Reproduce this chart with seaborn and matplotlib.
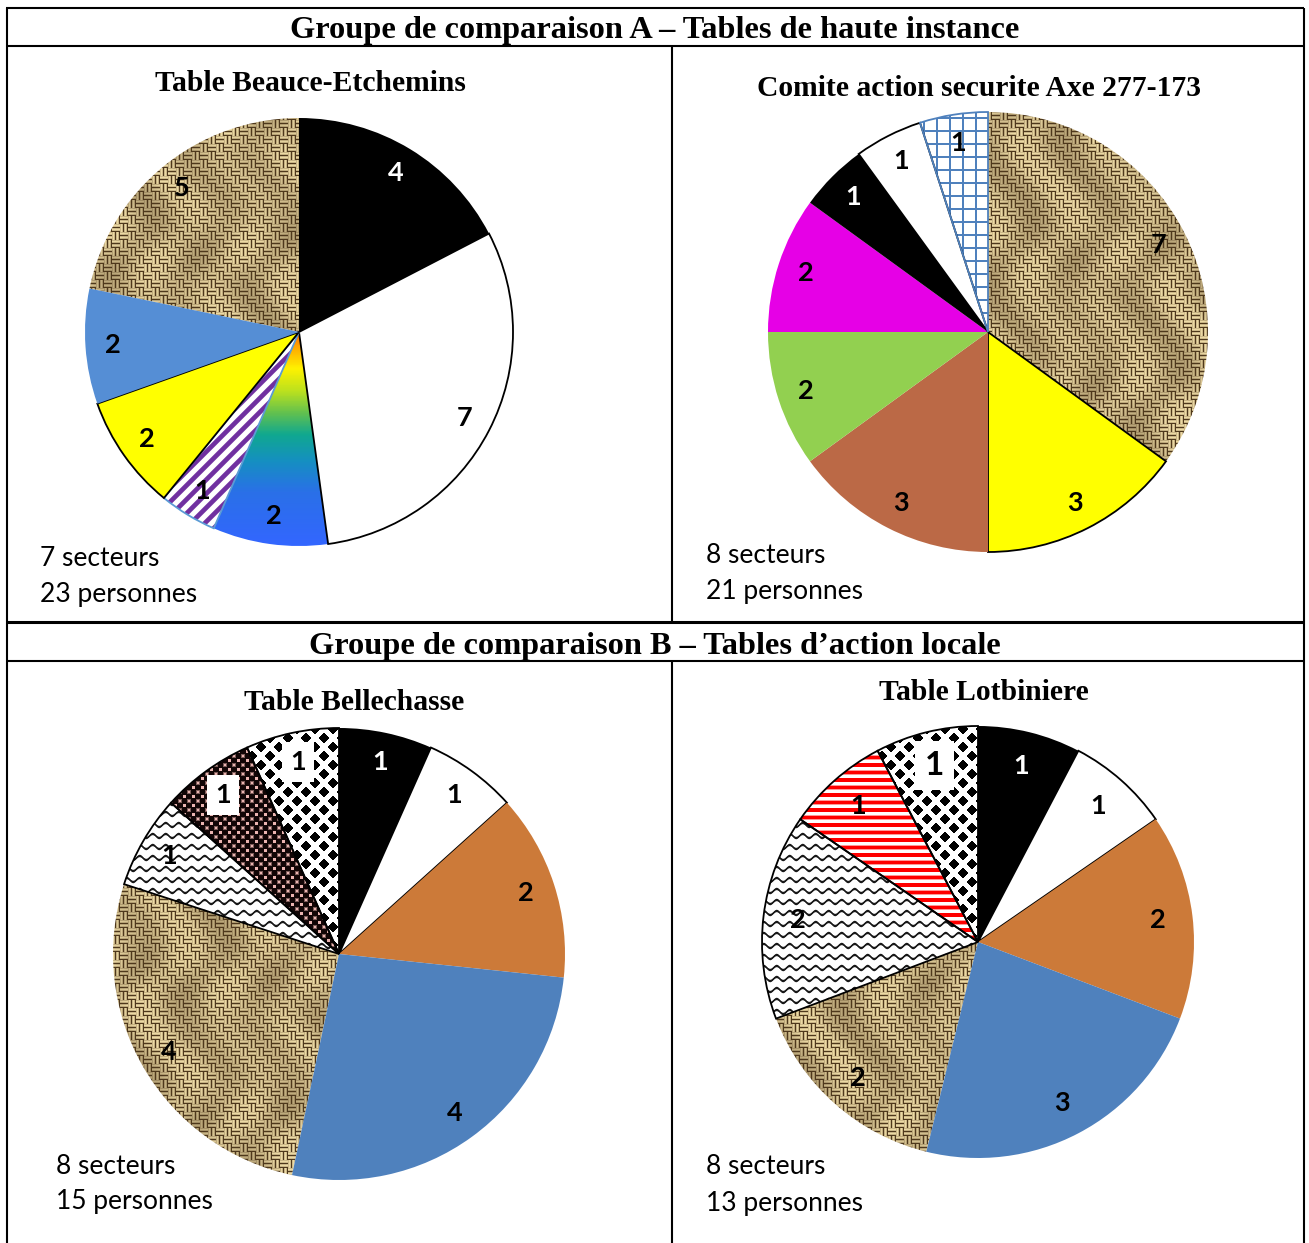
import numpy as np
import matplotlib
matplotlib.use("Agg")
import matplotlib.pyplot as plt
import seaborn as sns
from matplotlib.colors import LinearSegmentedColormap, to_rgb

# ---------------------------------------------------------------- data
group_headers = [
    "Groupe de comparaison A \u2013 Tables de haute instance",
    "Groupe de comparaison B \u2013 Tables d\u2019action locale",
]
pie_titles = [
    "Table Beauce-Etchemins",
    "Comite action securite Axe 277-173",
    "Table Bellechasse",
    "Table Lotbiniere",
]
sector_counts = [7, 8, 8, 8]
people_counts = [23, 21, 15, 13]

beauce_values = [4, 7, 2, 1, 2, 2, 5]
beauce_fills = ["black", "white", "gradient", "purple_stripes", "yellow", "sky_blue", "burlap"]

comite_values = [7, 3, 3, 2, 2, 1, 1, 1]
comite_fills = ["burlap", "yellow", "brown", "green", "magenta", "black", "white", "blue_grid"]

bellechasse_values = [1, 1, 2, 4, 4, 1, 1, 1]
bellechasse_fills = ["black", "white", "orange", "steel_blue", "burlap", "waves", "pink_dots", "diamonds"]

lotbiniere_values = [1, 1, 2, 3, 2, 2, 1, 1]
lotbiniere_fills = ["black", "white", "orange", "steel_blue", "burlap", "waves", "red_stripes", "diamonds"]

# ---------------------------------------------------------------- style
sns.set_theme(style="white")
plt.rcParams["font.family"] = ["Lato", "DejaVu Sans"]
plt.rcParams["text.color"] = "black"

W, H = 1309, 1243

SOLID = {
    "black": "#000000",
    "white": "#ffffff",
    "yellow": "#ffff00",
    "sky_blue": "#558ed5",
    "steel_blue": "#4f81bd",
    "brown": "#bb6946",
    "green": "#92d050",
    "magenta": "#e600e6",
    "orange": "#cc7a39",
}
EDGES = {
    "white": "black",
    "yellow": "black",
    "purple_stripes": "#5b9bd5",
    "blue_grid": "#4f81bd",
    "waves": "black",
    "pink_dots": "black",
    "red_stripes": "black",
    "diamonds": "black",
}


def mix(c0, c1, t):
    c0 = np.array(to_rgb(c0))
    c1 = np.array(to_rgb(c1))
    t = np.clip(t, 0, 1)[..., None]
    return c0 + (c1 - c0) * t


rainbow = LinearSegmentedColormap.from_list(
    "sector_gradient",
    [(0.0, "#ff6a00"), (0.08, "#ffb000"), (0.17, "#fff200"), (0.28, "#b8e020"),
     (0.38, "#60c050"), (0.48, "#10a890"), (0.6, "#1590c0"), (0.75, "#2a70e8"),
     (1.0, "#3366ff")])


def texture(kind, x, y, cy, r):
    """Fill pattern sampled on pixel-centre grids x (right) and y (down)."""
    if kind == "burlap":
        c = 4.0
        horiz = ((np.floor(x / (2 * c)) + np.floor(y / (2 * c))) % 2) == 0
        tx = np.sin(np.pi * ((x % c) + 0.5) / c)
        ty = np.sin(np.pi * ((y % c) + 0.5) / c)
        thread = np.where(horiz, ty, tx) ** 0.8
        mott = (0.88 + 0.12 * np.sin(x / 11.7 + 2 * np.cos(y / 23.0))
                + 0.08 * np.cos((x - y) / 17.3))
        return mix("#4e381c", "#ecd9a4", thread * mott)
    if kind == "gradient":
        return rainbow(np.clip((y - cy) / r, 0, 1))[..., :3]
    if kind == "purple_stripes":
        v = np.cos(2 * np.pi * (x + y) / 14.0)
        return mix("#ffffff", "#7030a0", (v - 0.05) * 1.6 + 0.5)
    if kind == "blue_grid":
        line = ((x % 13.0) < 1.6) | ((y % 13.0) < 1.6)
        return mix("#ffffff", "#4f81bd", line.astype(float))
    if kind == "waves":
        S, P, A = 11.0, 13.0, 2.0
        d = (y - A * np.sin(2 * np.pi * x / P)) % S
        dist = np.minimum(d, S - d)
        return mix("#ffffff", "#1a1a1a", 1.7 - dist)
    if kind == "pink_dots":
        a = np.maximum(np.abs((x % 9) - 4.5), np.abs((y % 9) - 4.5))
        b = np.maximum(np.abs(((x + 4.5) % 9) - 4.5), np.abs(((y + 4.5) % 9) - 4.5))
        dot = np.minimum(a, b)
        return mix("#120606", "#eab4b0", 2.0 - dot)
    if kind == "diamonds":
        P = 18.0
        a = np.abs((x % P) - P / 2) + np.abs((y % P) - P / 2)
        b = np.abs(((x + P / 2) % P) - P / 2) + np.abs(((y + P / 2) % P) - P / 2)
        d = np.minimum(a, b)
        return mix("#ffffff", "#000000", 6.0 - d)
    if kind == "red_stripes":
        ph = (y % 7.5) / 7.5
        v = np.cos(2 * np.pi * ph)
        return mix("#ffffff", "#ff0000", (v + 0.05) * 1.8 + 0.5)
    raise ValueError(kind)


fig = plt.figure(figsize=(W / 100, H / 100), dpi=100)
ax = fig.add_axes([0, 0, 1, 1])


def draw_pie(values, fills, cx, cy, r, pctdist=0.87, big_last=False, boxed=()):
    total = sum(values)
    colors = [SOLID.get(f, "none") for f in fills]
    wedges, _, autotexts = ax.pie(
        values, startangle=90, counterclock=False,
        center=(cx, H - cy), radius=r, colors=colors,
        autopct=lambda p: f"{p * total / 100:.0f}", pctdistance=pctdist,
        wedgeprops=dict(linewidth=1.3, edgecolor="none"),
        textprops=dict(fontsize=19.5, fontweight="bold", color="black"),
    )
    # pixel-centre sampling grid covering the pie
    x0, x1 = int(cx - r) - 2, int(cx + r) + 3
    y0, y1 = int(cy - r) - 2, int(cy + r) + 3
    gx, gy = np.meshgrid(np.arange(x0, x1) + 0.5, np.arange(y0, y1) + 0.5)
    for w, f, t in zip(wedges, fills, autotexts):
        w.set_edgecolor(EDGES.get(f, "none"))
        w.set_zorder(2)
        if f not in SOLID:
            img = texture(f, gx, gy, cy, r)
            im = ax.imshow(img, extent=(x0, x1, H - y1, H - y0), origin="upper",
                           interpolation="bilinear", zorder=1)
            im.set_clip_path(w)
        t.set_zorder(5)
        if f == "black":
            t.set_color("white")
    for i in boxed:
        autotexts[i].set_bbox(dict(boxstyle="square,pad=0.3", fc="white", ec="none"))
    if big_last:
        autotexts[-1].set_fontsize(24)
    return wedges


draw_pie(beauce_values, beauce_fills, 299, 332, 214)
draw_pie(comite_values, comite_fills, 988, 332, 220)
draw_pie(bellechasse_values, bellechasse_fills, 339, 954, 226, boxed=(6, 7))
draw_pie(lotbiniere_values, lotbiniere_fills, 978, 942, 216, pctdist=0.84,
         big_last=True, boxed=(7,))

# ---------------------------------------------------------------- table frame
def hline(y, x0, x1, lw=1.5):
    ax.plot([x0, x1], [H - y, H - y], color="black", lw=lw, solid_capstyle="butt", zorder=6)


def vline(x, y0, y1, lw=1.5):
    ax.plot([x, x], [H - y0, H - y1], color="black", lw=lw, solid_capstyle="butt", zorder=6)


hline(8, 6, 1304)
hline(45.5, 6, 1304)
hline(622, 6, 1304, lw=2.2)
hline(661, 6, 1304)
vline(6.5, 8, H)
vline(1304, 8, H)
vline(672, 45, 622)
vline(672, 661, H)

serif = ["Liberation Serif", "DejaVu Serif"]
ax.text(655, H - 30, group_headers[0], ha="center", va="center",
        fontsize=23.3, fontweight="bold", family=serif, zorder=7)
ax.text(655, H - 646, group_headers[1], ha="center", va="center",
        fontsize=23.3, fontweight="bold", family=serif, zorder=7)

title_pos = [(310, 83), (979, 88), (354, 702), (984, 692)]
for (tx, ty), title in zip(title_pos, pie_titles):
    ax.text(tx, H - ty, title, ha="center", va="center",
            fontsize=21.3, fontweight="bold", family=serif, zorder=7)

note_pos = [(40, 558), (706, 555), (56, 1166), (706, 1167)]
for (nx, ny), ns, npers in zip(note_pos, sector_counts, people_counts):
    ax.text(nx, H - ny, f"{ns} secteurs", ha="left", va="center", fontsize=19, zorder=7)
    ax.text(nx, H - ny - 36, f"{npers} personnes", ha="left", va="center", fontsize=19, zorder=7)

ax.set_xlim(0, W)
ax.set_ylim(0, H)
ax.set_aspect("auto")
ax.axis("off")
fig.savefig("out.png", dpi=100)
